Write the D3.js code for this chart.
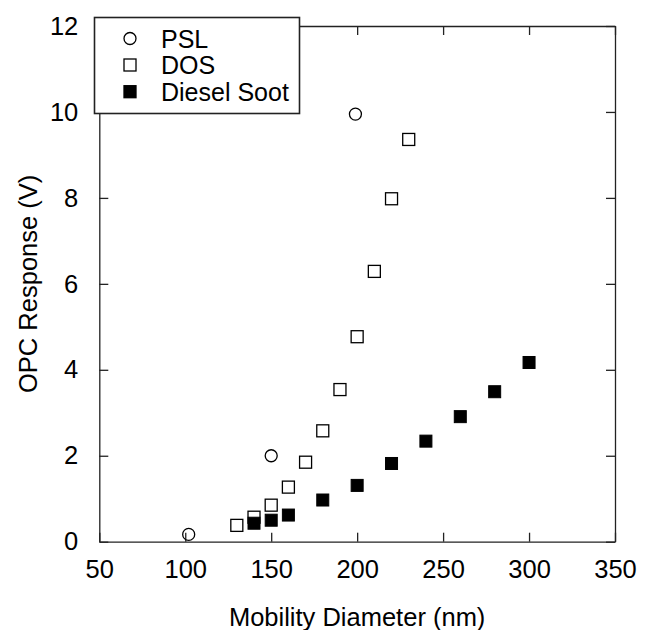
<!DOCTYPE html>
<html><head><meta charset="utf-8">
<script src="https://cdn.jsdelivr.net/npm/d3@7"></script>
<style>body{margin:0;background:#fff}svg{display:block}text{font-family:"Liberation Sans",Arial,Helvetica,sans-serif;fill:#000}</style>
</head><body>
<script>
// Data
const pslX = [102, 150, 199];
const pslY = [0.17, 2.0, 9.95];
const dosX = [130, 140, 150, 160, 170, 180, 190, 200, 210, 220, 230];
const dosY = [0.38, 0.57, 0.85, 1.27, 1.85, 2.58, 3.54, 4.77, 6.29, 7.98, 9.36];
const sootX = [140, 150, 160, 180, 200, 220, 240, 260, 280, 300];
const sootY = [0.43, 0.50, 0.62, 0.97, 1.31, 1.82, 2.34, 2.91, 3.49, 4.17];
const xTicks = [50, 100, 150, 200, 250, 300, 350];
const yTicks = [0, 2, 4, 6, 8, 10, 12];
const legendLabels = ["PSL", "DOS", "Diesel Soot"];

const W = 647, H = 630;
const svg = d3.select("body").append("svg").attr("width", W).attr("height", H);
const x = d3.scaleLinear().domain([50, 350]).range([99.3, 615]);
const y = d3.scaleLinear().domain([0, 12]).range([541.7, 26]);
const fs = 25.5;

// Axes with inward ticks
const axisStyle = g => {
  g.selectAll(".domain").attr("stroke", "#222").attr("stroke-width", 1.3);
  g.selectAll(".tick line").attr("stroke", "#222").attr("stroke-width", 1.3);
  g.selectAll(".tick text").style("font-size", fs + "px").attr("fill", "#000");
};
svg.append("g").attr("transform", `translate(0,${y(0)})`)
  .call(d3.axisBottom(x).tickValues(xTicks).tickSize(-9).tickSizeOuter(0).tickPadding(18))
  .call(axisStyle);
svg.append("g").attr("transform", `translate(0,${y(12)})`)
  .call(d3.axisTop(x).tickValues(xTicks).tickSize(-9).tickSizeOuter(0).tickFormat(""))
  .call(axisStyle);
svg.append("g").attr("transform", `translate(${x(50)},0)`)
  .call(d3.axisLeft(y).tickValues(yTicks).tickSize(-9).tickSizeOuter(0).tickPadding(21))
  .call(axisStyle);
svg.append("g").attr("transform", `translate(${x(350)},0)`)
  .call(d3.axisRight(y).tickValues(yTicks).tickSize(-9).tickSizeOuter(0).tickFormat(""))
  .call(axisStyle);

// markers
const ms = 12;
svg.append("g").selectAll("rect.dos").data(dosX.map((d, i) => [d, dosY[i]])).join("rect")
  .attr("x", d => x(d[0]) - ms / 2).attr("y", d => y(d[1]) - ms / 2)
  .attr("width", ms).attr("height", ms)
  .attr("fill", "#fff").attr("stroke", "#000").attr("stroke-width", 1.3);
svg.append("g").selectAll("rect.soot").data(sootX.map((d, i) => [d, sootY[i]])).join("rect")
  .attr("x", d => x(d[0]) - ms / 2).attr("y", d => y(d[1]) - ms / 2)
  .attr("width", ms).attr("height", ms)
  .attr("fill", "#000").attr("stroke", "#000").attr("stroke-width", 1);
svg.append("g").selectAll("circle").data(pslX.map((d, i) => [d, pslY[i]])).join("circle")
  .attr("cx", d => x(d[0])).attr("cy", d => y(d[1])).attr("r", 6)
  .attr("fill", "none").attr("stroke", "#000").attr("stroke-width", 1.3);

// Legend
const lg = svg.append("g");
lg.append("rect").attr("x", 94.5).attr("y", 17.5).attr("width", 205).attr("height", 96)
  .attr("fill", "#fff").attr("stroke", "#222").attr("stroke-width", 1.6);
const rowY = [38.5, 65, 91.7];
legendLabels.forEach((lab, i) => {
  const cy = rowY[i];
  if (i === 0) lg.append("circle").attr("cx", 130).attr("cy", cy).attr("r", 6)
    .attr("fill", "none").attr("stroke", "#000").attr("stroke-width", 1.3);
  else lg.append("rect").attr("x", 130 - ms / 2).attr("y", cy - ms / 2).attr("width", ms).attr("height", ms)
    .attr("fill", i === 2 ? "#000" : "#fff").attr("stroke", "#000").attr("stroke-width", 1.3);
  lg.append("text").attr("x", 161).attr("y", cy).attr("dy", "0.36em")
    .style("font-size", "25px").text(lab);
});

// Axis titles
svg.append("text").attr("x", (x(50) + x(350)) / 2).attr("y", 626)
  .attr("text-anchor", "middle").style("font-size", fs + "px").text("Mobility Diameter (nm)");
svg.append("text").attr("transform", `translate(37,${(y(0) + y(12)) / 2}) rotate(-90)`)
  .attr("text-anchor", "middle").style("font-size", fs + "px").text("OPC Response (V)");
</script>
</body></html>
